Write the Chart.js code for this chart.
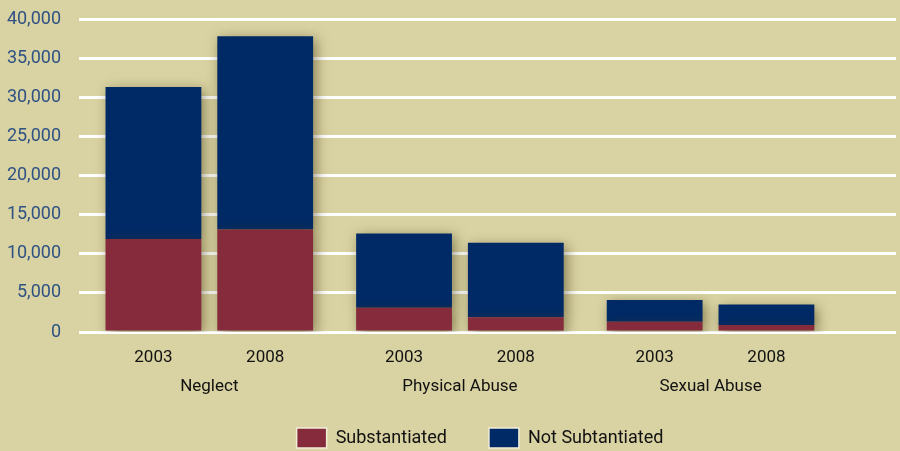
<!DOCTYPE html>
<html>
<head>
<meta charset="utf-8">
<script src="https://cdn.jsdelivr.net/npm/chart.js@4.4.1/dist/chart.umd.min.js"></script>
<style>
    html, body { margin: 0; padding: 0; background: #d9d2a2; }
    #wrap { width: 900px; height: 451px; }
</style>
</head>
<body>
<div id="wrap"><canvas id="abuseChart"></canvas></div>
<script>
// Chart data
const groups = ['Neglect', 'Physical Abuse', 'Sexual Abuse'];
const years = ['2003', '2008'];
const substantiated2003 = [11900, 3100, 1300];
const notSubstantiated2003 = [19400, 9500, 2800];
const substantiated2008 = [13100, 1900, 900];
const notSubstantiated2008 = [24700, 9500, 2600];
const yTicks = [0, 5000, 10000, 15000, 20000, 25000, 30000, 35000, 40000];

const RED = '#852b3b';
const NAVY = '#002a66';
const FONT = "Roboto, 'Liberation Sans', sans-serif";
const legendShiftX = 32;
const legendShiftY = -18;

// groups sit on a numeric x axis so the plot can run on past the last group
function points(values) {
    return values.map((v, i) => ({ x: i, y: v }));
}

// soft drop shadow behind the bars
const barShadow = {
    id: 'barShadow',
    beforeDatasetsDraw(chart) {
        const c = chart.ctx;
        c.save();
        c.shadowColor = 'rgba(70, 60, 20, 0.55)';
        c.shadowBlur = 12;
        c.shadowOffsetX = 3;
        c.shadowOffsetY = 3;
    },
    afterDatasetsDraw(chart) {
        chart.ctx.restore();
    }
};

// year label under each bar
const yearLabels = {
    id: 'yearLabels',
    afterDraw(chart) {
        const c = chart.ctx;
        c.save();
        c.font = '17px ' + FONT;
        c.fillStyle = '#111111';
        c.textAlign = 'center';
        c.textBaseline = 'middle';
        [0, 2].forEach((di, k) => {
            chart.getDatasetMeta(di).data.forEach(bar => {
                c.fillText(years[k], bar.x, chart.chartArea.bottom + 26);
            });
        });
        c.restore();
    }
};

// legend sits a little right of centre and tight under the labels
const legendNudge = {
    id: 'legendNudge',
    afterLayout(chart) {
        const lg = chart.legend;
        lg.left += legendShiftX;
        lg.right += legendShiftX;
        lg.top += legendShiftY;
        lg.bottom += legendShiftY;
    }
};

const ctx = document.getElementById('abuseChart').getContext('2d');
const abuseChart = new Chart(ctx, {
    type: 'bar',
    data: {
        datasets: [
            { label: 'Substantiated', data: points(substantiated2003), backgroundColor: RED, stack: 'y2003' },
            { label: 'Not Subtantiated', data: points(notSubstantiated2003), backgroundColor: NAVY, stack: 'y2003' },
            { label: 'Substantiated', data: points(substantiated2008), backgroundColor: RED, stack: 'y2008' },
            { label: 'Not Subtantiated', data: points(notSubstantiated2008), backgroundColor: NAVY, stack: 'y2008' }
        ]
    },
    options: {
        responsive: true,
        maintainAspectRatio: false,
        animation: false,
        categoryPercentage: 0.892,
        barPercentage: 0.857,
        layout: { padding: { top: 19, right: 4, bottom: -25, left: 0 } },
        plugins: {
            legend: {
                position: 'bottom',
                labels: {
                    font: { family: FONT, size: 18 },
                    color: '#111111',
                    boxWidth: 30,
                    boxHeight: 20,
                    padding: 42,
                    filter: (item) => item.datasetIndex < 2,
                    generateLabels(chart) {
                        const items = Chart.defaults.plugins.legend.labels.generateLabels(chart);
                        items.forEach(it => { it.strokeStyle = '#f2eed8'; it.lineWidth = 1.5; });
                        return items;
                    }
                }
            },
            tooltip: { enabled: false }
        },
        scales: {
            x: {
                type: 'linear',
                stacked: true,
                offset: false,
                min: -0.5,
                max: 2.74,
                afterBuildTicks(s) { s.ticks = groups.map((g, i) => ({ value: i })); },
                grid: { display: false, drawTicks: false },
                border: { display: false },
                ticks: {
                    font: { family: FONT, size: 17 },
                    color: '#111111',
                    padding: 45,
                    callback: (v) => groups[v]
                },
                afterFit(s) { s.height = 72; }
            },
            y: {
                stacked: true,
                min: 0,
                max: 40000,
                afterBuildTicks(s) { s.ticks = yTicks.map(v => ({ value: v })); },
                grid: { color: '#ffffff', lineWidth: 3, tickLength: 5, tickColor: '#ffffff' },
                border: { display: false },
                ticks: { font: { family: FONT, size: 18 }, color: '#2e5283', padding: 18 },
                afterFit(s) { s.width = 84; s.paddingTop = 0; }
            }
        }
    },
    plugins: [barShadow, yearLabels, legendNudge]
});
</script>
</body>
</html>
